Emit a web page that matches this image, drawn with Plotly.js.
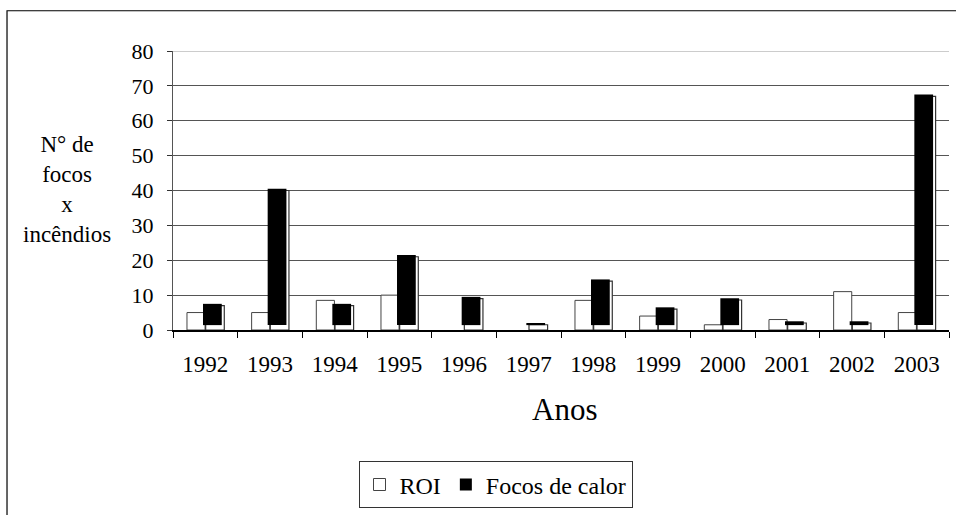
<!DOCTYPE html>
<html>
<head>
<meta charset="utf-8">
<script src="https://cdn.plot.ly/plotly-3.0.1.min.js"></script>
<style>html,body{margin:0;padding:0;background:#fff;}#chart{width:956px;height:515px;}</style>
</head>
<body>
<div id="chart"></div>
<script>
const anos = ['1992','1993','1994','1995','1996','1997','1998','1999','2000','2001','2002','2003'];
const roi = [5, 5, 8.5, 10, 0, 0, 8.5, 4, 1.5, 3, 11, 5];
const focos = [7, 40, 7, 21, 9, 1.5, 14, 6, 8.6, 2, 2, 67];
const yTicks = [0, 10, 20, 30, 40, 50, 60, 70, 80];

const FONT = '"Times New Roman", "Liberation Serif", "DejaVu Serif", serif';

// zero-height bars are not drawn at all in the original
const roiShown = roi.map(v => (v === 0 ? null : v));
// black face of the "Focos" bars drawn lifted off the floor (as in the original)
const faceBase = focos.map(() => 1.4);
const faceHeight = focos.map(v => Math.max(v - 0.9, 0.4));

const traces = [
  {
    type: 'bar', name: 'ROI', x: anos, y: roiShown,
    offset: -0.284, width: 0.28,
    marker: {color: '#ffffff', line: {color: '#444', width: 1}},
    hoverinfo: 'x+y'
  },
  {
    type: 'bar', name: 'Focos de calor (sombra)', x: anos, y: focos,
    offset: 0.005, width: 0.288, showlegend: false,
    marker: {color: '#ffffff', line: {color: '#333', width: 1.2}},
    hoverinfo: 'x+y'
  },
  {
    type: 'bar', name: 'Focos de calor', x: anos, y: faceHeight, base: faceBase,
    offset: -0.036, width: 0.29,
    marker: {color: '#000000', line: {color: '#000', width: 0}},
    hoverinfo: 'skip'
  }
];

const layout = {
  width: 956, height: 515,
  margin: {l: 173, r: 7, t: 51, b: 183.3, pad: 0},
  paper_bgcolor: '#ffffff', plot_bgcolor: '#ffffff',
  barmode: 'overlay',
  showlegend: true,
  font: {family: FONT, color: '#000'},
  xaxis: {
    type: 'category', categoryorder: 'array', categoryarray: anos,
    tickson: 'boundaries', ticks: 'outside', ticklen: 6, tickcolor: '#000', tickwidth: 1,
    showline: true, linecolor: '#000', linewidth: 1.5,
    showgrid: false, zeroline: false,
    tickfont: {family: FONT, size: 23, color: '#000'},
    ticklabelstandoff: 13
  },
  yaxis: {
    range: [0, 80], tickvals: yTicks, ticktext: yTicks.map(String),
    ticks: 'outside', ticklen: 5, tickcolor: '#333', tickwidth: 1,
    showline: true, linecolor: '#555', linewidth: 1,
    showgrid: true, gridcolor: '#555', gridwidth: 1,
    zeroline: false,
    tickfont: {family: FONT, size: 22, color: '#000'},
    ticklabelstandoff: 9
  },
  legend: {
    orientation: 'h', x: 0.4156, xanchor: 'center', y: -0.471, yanchor: 'top',
    bordercolor: '#333', borderwidth: 1, bgcolor: '#fff',
    font: {family: FONT, size: 24, color: '#000'},
    traceorder: 'normal', itemwidth: 30
  },
  shapes: [
    {type: 'line', xref: 'paper', yref: 'y', x0: 0, x1: 1, y0: 80, y1: 80,
     line: {color: '#bbbbbb', width: 1.5}},
    {type: 'rect', xref: 'paper', yref: 'paper', x0: -0.2139, x1: 1.05, y0: -0.75, y1: 1.1443,
     line: {color: '#000', width: 1.2}, fillcolor: 'rgba(0,0,0,0)', layer: 'below'}
  ],
  annotations: [
    {text: 'N° de<br>focos<br>x<br>incêndios', xref: 'paper', yref: 'paper',
     x: -0.1366, y: 0.505, xanchor: 'center', yanchor: 'middle', align: 'center',
     showarrow: false, font: {family: FONT, size: 23, color: '#000'}},
    {text: 'Anos', xref: 'paper', yref: 'paper', x: 0.504, y: -0.286,
     xanchor: 'center', yanchor: 'middle', showarrow: false,
     font: {family: FONT, size: 31, color: '#000'}}
  ]
};

Plotly.newPlot('chart', traces, layout, {displayModeBar: false, staticPlot: true});
</script>
</body>
</html>
